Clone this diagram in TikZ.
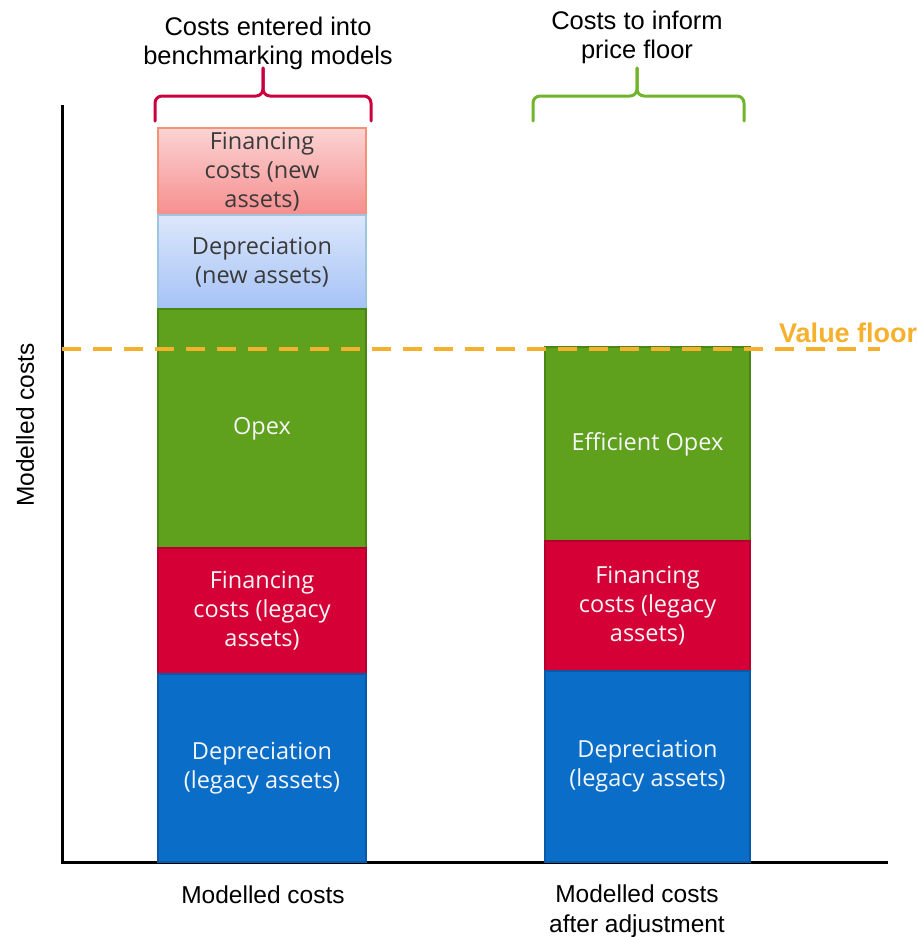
\documentclass[tikz,border=0pt]{standalone}
\usepackage{fontspec}
\setmainfont{Liberation Sans}
\newfontfamily\barfont{Open Sans}
\definecolor{bargreen}{HTML}{5FA01C}
\definecolor{bargreenB}{HTML}{4A8615}
\definecolor{barred}{HTML}{D50036}
\definecolor{barredB}{HTML}{B3002C}
\definecolor{barblue}{HTML}{0A6DC8}
\definecolor{barblueB}{HTML}{0B58A6}
\definecolor{pinkT}{HTML}{FBD3D3}
\definecolor{pinkB}{HTML}{F78E8E}
\definecolor{pinkE}{HTML}{F29378}
\definecolor{lblueT}{HTML}{DCE7FB}
\definecolor{lblueB}{HTML}{A5C2F6}
\definecolor{lblueE}{HTML}{9CC6E0}
\definecolor{floororange}{HTML}{F5B02E}
\definecolor{bracered}{HTML}{C8003E}
\definecolor{bracegreen}{HTML}{70B42C}
\definecolor{labelgrey}{HTML}{3A3A3A}
\definecolor{softwhite}{HTML}{F4F6F8}
\tikzset{
  seg/.style={rectangle, draw, line width=2pt, inner sep=0pt, outer sep=0pt,
    align=center, font=\barfont\fontsize{23.5}{29}\selectfont},
  darkseg/.style={seg, text=softwhite},
  lightseg/.style={seg, text=labelgrey},
  heading/.style={align=center, font=\fontsize{25.5}{29}\selectfont, inner sep=0pt},
  catlabel/.style={align=center, font=\fontsize{24.5}{30}\selectfont, inner sep=0pt},
  bracket/.style={line width=3pt, rounded corners=7pt, line cap=round},
}
\begin{document}
\begin{tikzpicture}[x=1pt, y=-1pt]
\useasboundingbox (0,0) rectangle (917,937);

% axes
\coordinate (ytop) at (62,105);
\coordinate (origin) at (62,862);
\coordinate (xend) at (888,862);
\draw[line width=3pt] (ytop) -- (origin) -- (xend);
\node[catlabel, rotate=90] (ylab) at (25,425) {Modelled costs};

% left stack
\node[lightseg, minimum width=208pt, minimum height=87pt,
  top color=pinkT, bottom color=pinkB, draw=pinkE] (fnew) at (262,171.5)
  {Financing\\costs (new\\assets)};
\node[lightseg, minimum width=208pt, minimum height=94pt,
  top color=lblueT, bottom color=lblueB, draw=lblueE] (dnew) at (262,262)
  {Depreciation\\(new assets)};
\node[darkseg, minimum width=208pt, minimum height=239pt,
  fill=bargreen, draw=bargreenB] (opex) at (262,428.5) {Opex};
\node[darkseg, minimum width=208pt, minimum height=126pt,
  fill=barred, draw=barredB] (fleg) at (262,611)
  {Financing\\costs (legacy\\assets)};
\node[darkseg, minimum width=208pt, minimum height=188pt,
  fill=barblue, draw=barblueB] (dleg) at (262,768)
  {Depreciation\\(legacy assets)};

% right stack
\node[darkseg, minimum width=205pt, minimum height=194pt,
  fill=bargreen, draw=bargreenB] (effopex) at (647.5,444) {Efficient Opex};
\node[darkseg, minimum width=205pt, minimum height=130pt,
  fill=barred, draw=barredB] (flegR) at (647.5,606)
  {Financing\\costs (legacy\\assets)};
\node[darkseg, minimum width=205pt, minimum height=191pt,
  fill=barblue, draw=barblueB] (dlegR) at (647.5,766.5)
  {Depreciation\\(legacy assets)};

% value floor
\coordinate (floorL) at (62,349);
\coordinate (floorR) at (880,349);
\draw[floororange, line width=4pt, dash pattern=on 19pt off 12pt] (floorL) -- (floorR);
\node[anchor=south west, inner sep=0pt, text=floororange,
  font=\bfseries\fontsize{27}{30}\selectfont] (vfloor) at (779,343) {Value floor};

% brackets above the stacks
\coordinate (lbL) at (155,121);
\coordinate (lbR) at (371,121);
\coordinate (lbM) at (263,96);
\coordinate (lbT) at (263,68);
\draw[bracket, bracered] (lbL) |- (lbM) -- (lbT);
\draw[bracket, bracered] (lbR) |- (lbM) -- (lbT);
\coordinate (rbL) at (533,121);
\coordinate (rbR) at (744,121);
\coordinate (rbM) at (637,96);
\coordinate (rbT) at (637,68);
\draw[bracket, bracegreen] (rbL) |- (rbM) -- (rbT);
\draw[bracket, bracegreen] (rbR) |- (rbM) -- (rbT);

% headings
\node[heading] (hleft) at (268,43) {Costs entered into\\benchmarking models};
\node[heading] (hright) at (637,37) {Costs to inform\\price floor};

% category labels
\node[catlabel] (cleft) at (263,895) {Modelled costs};
\node[catlabel] (cright) at (637,911) {Modelled costs\\after adjustment};
\end{tikzpicture}
\end{document}
